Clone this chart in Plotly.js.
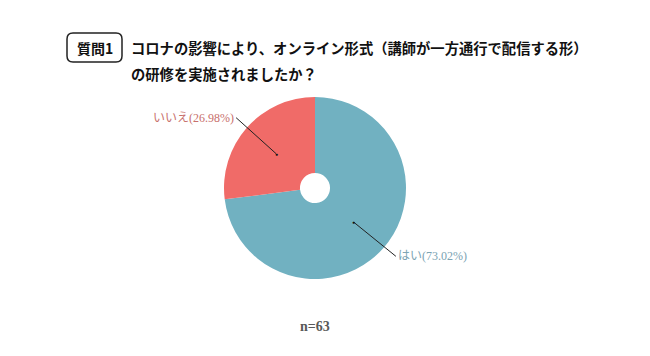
<!DOCTYPE html>
<html><head><meta charset="utf-8">
<script src="https://cdn.plot.ly/plotly-3.0.1.min.js"></script>
<style>body{margin:0;background:#fff}#c{width:650px;height:356px}</style>
</head><body><div id="c"></div>
<script>
const labels = ["はい", "いいえ"];
const values = [46, 17];
const colors = ["#71B1C1", "#F06B68"];
const labelColors = ["#7BA3B3", "#C8706C"];
const nTotal = 63;

const W = 650, H = 356;
const cx = 315, cy = 188, R = 91;
const dom = {x: [(cx - R) / W, (cx + R) / W], y: [(H - cy - R) / H, (H - cy + R) / H]};
const px = x => x / W, py = y => 1 - y / H;

const total = values.reduce((a, b) => a + b, 0);
const annotations = [];
let start = 0;
const offsets = [{ax: 42, ay: 34, xa: "left"}, {ax: -40, ay: -36, xa: "right"}];
values.forEach((v, i) => {
  const mid = (start + v / 2) / total * 2 * Math.PI;
  start += v;
  const dx = cx + 0.57 * R * Math.sin(mid), dy = cy - 0.57 * R * Math.cos(mid);
  const pct = (v / total * 100).toFixed(2);
  annotations.push({
    x: px(dx), y: py(dy), xref: "paper", yref: "paper",
    text: labels[i] + "(" + pct + "%)", showarrow: true,
    ax: offsets[i].ax, ay: offsets[i].ay, xanchor: offsets[i].xa, yanchor: "middle",
    arrowhead: 0, startarrowhead: 0, arrowwidth: 1, arrowcolor: "#222",
    font: {family: "Liberation Serif, Noto Sans CJK JP, serif", size: 12, color: labelColors[i]}
  });
  annotations.push({
    x: px(dx), y: py(dy), xref: "paper", yref: "paper", text: "●", showarrow: false,
    xanchor: "center", yanchor: "middle",
    font: {size: 5, color: "#111"}
  });
});

annotations.push({x: px(95), y: py(48), xref: "paper", yref: "paper", text: "<b>質問1</b>",
  xanchor: "center", yanchor: "middle",
  showarrow: false, font: {family: "Noto Sans CJK JP", size: 14, color: "#111"}});
annotations.push({x: px(129), y: py(47), xref: "paper", yref: "paper", xanchor: "left", yanchor: "middle",
  text: "<b>コロナの影響により、オンライン形式（講師が一方通行で配信する形）</b>",
  showarrow: false, font: {family: "Noto Sans CJK JP", size: 14.3, color: "#111"}});
annotations.push({x: px(129), y: py(74), xref: "paper", yref: "paper", xanchor: "left", yanchor: "middle",
  text: "<b>の研修を実施されましたか？</b>",
  showarrow: false, font: {family: "Noto Sans CJK JP", size: 14.3, color: "#111"}});
annotations.push({x: px(cx), y: py(326), xref: "paper", yref: "paper", xanchor: "center", yanchor: "middle",
  text: "<b>n=" + nTotal + "</b>", showarrow: false,
  font: {family: "Liberation Serif, serif", size: 14, color: "#595959"}});

const x0 = px(67), x1 = px(122), y0 = py(33), y1 = py(62), rx = 6 / W, ry = 6 / H;
const boxPath = `M ${x0 + rx} ${y0} L ${x1 - rx} ${y0} Q ${x1} ${y0} ${x1} ${y0 - ry} L ${x1} ${y1 + ry} Q ${x1} ${y1} ${x1 - rx} ${y1} L ${x0 + rx} ${y1} Q ${x0} ${y1} ${x0} ${y1 + ry} L ${x0} ${y0 - ry} Q ${x0} ${y0} ${x0 + rx} ${y0} Z`;

Plotly.newPlot("c", [{
  type: "pie", labels: labels, values: values, sort: false, direction: "clockwise", rotation: 0,
  hole: 0.165, textinfo: "none", hoverinfo: "label+percent",
  marker: {colors: colors, line: {color: "#fff", width: 0}},
  domain: dom, showlegend: false
}], {
  width: W, height: H, margin: {l: 0, r: 0, t: 0, b: 0},
  paper_bgcolor: "#fff", showlegend: false,
  annotations: annotations,
  shapes: [{type: "path", xref: "paper", yref: "paper", path: boxPath, line: {color: "#222", width: 1.5}}]
}, {displayModeBar: false, staticPlot: true});
</script></body></html>
